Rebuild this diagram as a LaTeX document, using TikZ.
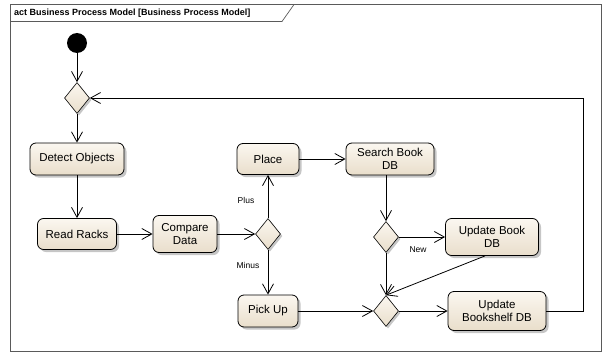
\documentclass[tikz,border=0pt]{standalone}
\usepackage{fontspec}
\setmainfont{Liberation Sans}
\usetikzlibrary{shapes.geometric,arrows.meta,shadows}

\definecolor{actlight}{RGB}{251,247,240}
\definecolor{actdark}{RGB}{233,222,203}
\definecolor{framegray}{RGB}{90,90,90}

\begin{document}
\begin{tikzpicture}[x=1pt,y=-1pt,
    action/.style={draw=black, line width=0.8pt, rounded corners=6pt,
      top color=actlight, bottom color=actdark, align=center, inner sep=2pt,
      font=\fontsize{11.5}{13}\selectfont,
      drop shadow={shadow xshift=2.5pt, shadow yshift=-2.5pt, fill=black!50, opacity=0.45}},
    choice/.style={diamond, draw=black, line width=0.6pt, inner sep=0pt,
      minimum width=25pt, minimum height=31pt,
      top color=actlight, bottom color=actdark,
      drop shadow={shadow xshift=2pt, shadow yshift=-2pt, fill=black!50, opacity=0.45}},
    flow/.style={line width=0.8pt, -{Straight Barb[length=10pt, width=11pt, line width=0.8pt]}},
    guard/.style={font=\fontsize{8.5}{10}\selectfont}]
  % Page size of the picture
  \useasboundingbox (0,0) rectangle (604,353);

  % Frame with the name tab
  \draw[framegray, line width=0.9pt] (10.5,4.5) rectangle (601.5,351);
  \draw[framegray, line width=0.7pt] (10.5,21.5) -- (282,21.5) -- (294,4.5);
  \node[anchor=west, inner sep=0pt, font=\fontsize{9}{10}\selectfont\bfseries] (title) at (14,13)
    {act Business Process Model [Business Process Model]};

  % Start and the merge of the loop
  \node[circle, fill=black, minimum size=20pt, inner sep=0pt] (start) at (77,43) {};
  \node[choice] (merge1) at (77,98) {};

  % Left column of actions
  \node[action, minimum width=94pt, minimum height=32pt] (detect) at (77,159) {Detect Objects};
  \node[action, minimum width=79pt, minimum height=31pt] (read) at (77,234) {Read Racks};
  \node[action, minimum width=64pt, minimum height=37pt] (compare) at (185,234) {Compare\\Data};

  % Decision plus / minus
  \node[choice] (dec1) at (268,234) {};
  \node[action, minimum width=62pt, minimum height=31pt] (place) at (268,159) {Place};
  \node[action, minimum width=60pt, minimum height=32pt] (pickup) at (268,311) {Pick Up};

  % Book data base
  \node[action, minimum width=88pt, minimum height=32pt] (search) at (390,159) {Search Book\\DB};
  \node[choice] (dec2) at (386,237) {};
  \node[action, minimum width=93pt, minimum height=37pt] (updbook) at (492,237) {Update Book\\DB};
  \node[choice] (merge2) at (386,311) {};
  \node[action, minimum width=98pt, minimum height=39pt] (shelf) at (497,311) {Update\\Bookshelf DB};
  \coordinate (loop) at (583,98);

  % Guards
  \node[guard] (plus) at (246,200) {Plus};
  \node[guard] (minus) at (248,265) {Minus};
  \node[guard] (new) at (418,250) {New};

  % Flows
  \draw[flow] (start) -- (merge1);
  \draw[flow] (merge1) -- (detect);
  \draw[flow] (detect) -- (read);
  \draw[flow] (read) -- (compare);
  \draw[flow] (compare) -- (dec1);
  \draw[flow] (dec1) -- (place);
  \draw[flow] (dec1) -- (pickup);
  \draw[flow] (place) -- (search);
  \draw[flow] (search.south -| dec2.north) -- (dec2.north);
  \draw[flow] (dec2) -- (updbook);
  \draw[flow] (dec2) -- (merge2);
  \draw[flow] ([xshift=-7pt]updbook.south) -- (merge2.north);
  \draw[flow] (pickup) -- (merge2);
  \draw[flow] (merge2) -- (shelf);
  \draw[flow] (shelf.east) -| (loop) -- (merge1.east);
\end{tikzpicture}
\end{document}
